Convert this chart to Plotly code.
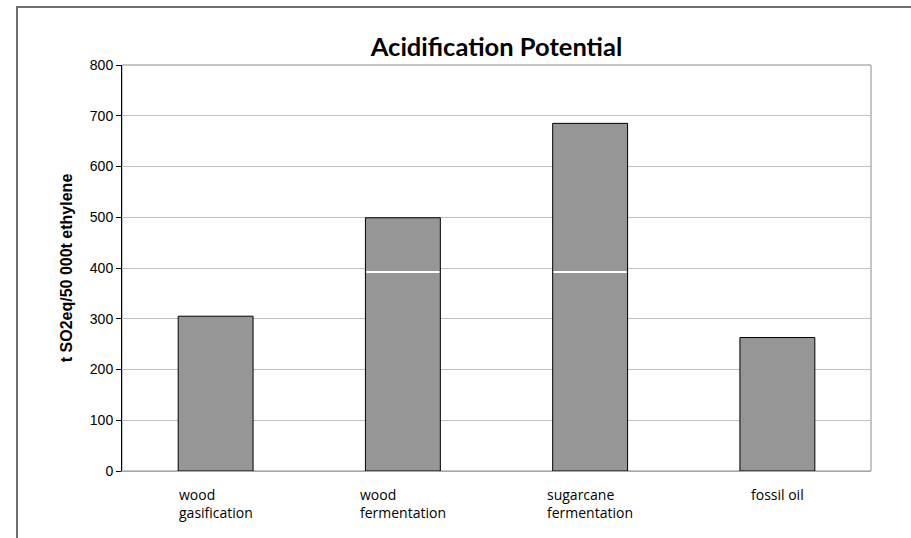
import plotly.graph_objects as go

categories = ["wood gasification", "wood fermentation", "sugarcane fermentation", "fossil oil"]
tick_labels = ["wood<br>gasification", "wood<br>fermentation", "sugarcane<br>fermentation", "fossil oil"]
values = [305, 499, 685, 263]
split_levels = [None, 391, 391, None]
y_ticks = [0, 100, 200, 300, 400, 500, 600, 700, 800]

L, R, T, B = 122, 40, 65, 67
W, H = 911, 538
pw, ph = W - L - R, H - T - B

fig = go.Figure()
fig.add_trace(go.Bar(
    x=categories, y=values, width=0.4,
    marker=dict(color="#969696", line=dict(color="#000000", width=1)),
    hoverinfo="y", showlegend=False,
))
fig.add_trace(go.Bar(
    x=categories, y=[3 if s is not None else None for s in split_levels],
    base=[s if s is not None else None for s in split_levels], width=0.39,
    marker=dict(color="#ffffff", line=dict(width=0)),
    hoverinfo="skip", showlegend=False,
))

for c, t in zip(categories, tick_labels):
    fig.add_annotation(
        x=c, y=0, xref="x", yref="paper", yshift=-12, yanchor="top",
        text=t, showarrow=False, align="left",
        font=dict(family="Open Sans, Lato, sans-serif", size=14, color="#000000"),
    )

# outer chart frame (cut at right/bottom like reference)
fig.add_shape(
    type="rect", xref="paper", yref="paper",
    x0=(17 - L) / pw, x1=(W + 10 - L) / pw,
    y0=-(H + 10 - T - ph) / ph, y1=(H - B - 7) / ph,
    line=dict(color="#6e6e6e", width=2), layer="below",
)
# plot area border (top/right)
fig.add_shape(
    type="rect", xref="paper", yref="paper", x0=0, x1=1, y0=0, y1=1,
    line=dict(color="#8c8c8c", width=1), layer="below",
)

fig.update_layout(
    width=W, height=H,
    margin=dict(l=L, r=R, t=T, b=B),
    paper_bgcolor="#ffffff", plot_bgcolor="#ffffff",
    barmode="overlay",
    title=dict(
        text="<b>Acidification Potential</b>",
        x=(L + pw / 2) / W, xanchor="center",
        y=1 - 47 / H, yanchor="middle", yref="container",
        font=dict(family="Lato, Open Sans, sans-serif", size=25.5, color="#000000"),
    ),
    xaxis=dict(
        showticklabels=False, showgrid=False, ticks="",
        showline=True, linecolor="#a6a6a6", linewidth=1,
        zeroline=False,
    ),
    yaxis=dict(
        range=[0, 800], tickvals=y_ticks, ticks="outside", ticklen=5,
        tickcolor="#000000",
        showline=True, linecolor="#000000", linewidth=1,
        showgrid=True, gridcolor="#c0c0c0", gridwidth=1, zeroline=False,
        tickfont=dict(family="Liberation Sans, Arial, sans-serif", size=14, color="#000000"),
        title=dict(
            text="<b>t SO2eq/50 000t ethylene</b>",
            font=dict(family="Liberation Sans, Arial, sans-serif", size=16, color="#000000"),
            standoff=13,
        ),
    ),
)

fig.write_html("out.html", post_script="document.body.style.margin='0';",
               config={"displayModeBar": False})
